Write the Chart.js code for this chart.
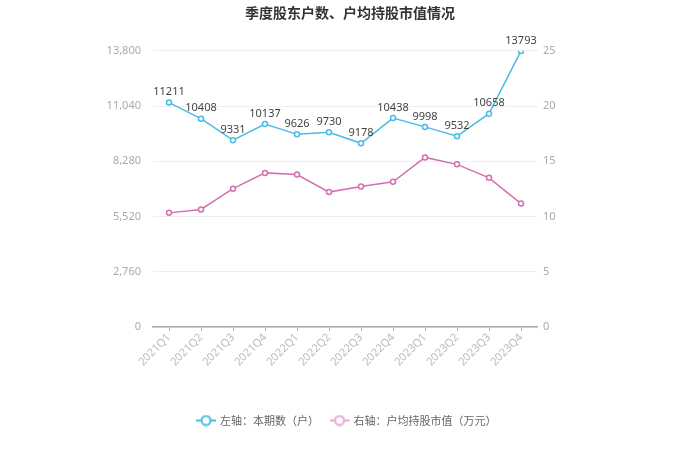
<!DOCTYPE html>
<html>
<head>
<meta charset="utf-8">
<script src="https://cdn.jsdelivr.net/npm/chart.js@4"></script>
<style>
  body { margin: 0; background: #fff; }
  #wrap { width: 700px; height: 473px; }
</style>
</head>
<body>
<div id="wrap"><canvas id="chart"></canvas></div>
<script>
// data
const quarters = ['2021Q1','2021Q2','2021Q3','2021Q4','2022Q1','2022Q2','2022Q3','2022Q4','2023Q1','2023Q2','2023Q3','2023Q4'];
const holders = [11211, 10408, 9331, 10137, 9626, 9730, 9178, 10438, 9998, 9532, 10658, 13793];
const avgValue = [10.33, 10.64, 12.52, 13.95, 13.80, 12.21, 12.72, 13.14, 15.35, 14.72, 13.50, 11.17];
const leftTicks = [0, 2760, 5520, 8280, 11040, 13800];

const blue = '#4cbbe8';
const pink = '#d46fb3';
const pinkLight = '#eaa6d6';

function legendIcon(color){
    const c = document.createElement('canvas');
    c.width = 26; c.height = 12;
    const g = c.getContext('2d');
    g.strokeStyle = color;
    g.lineWidth = 2;
    g.beginPath(); g.moveTo(0, 6); g.lineTo(20, 6); g.stroke();
    g.fillStyle = '#fff';
    g.beginPath(); g.arc(10, 6, 4.5, 0, Math.PI * 2); g.fill(); g.stroke();
    return c;
}

// draws the numbers above the blue line
const valueLabels = {
    id: 'valueLabels',
    afterDatasetsDraw(chart){
        const ctx = chart.ctx;
        const meta = chart.getDatasetMeta(0);
        ctx.save();
        ctx.font = '11px "Noto Sans", sans-serif';
        ctx.fillStyle = '#444';
        ctx.textAlign = 'center';
        ctx.textBaseline = 'bottom';
        meta.data.forEach((pt, i) => {
            ctx.fillText(String(holders[i]), pt.x, pt.y - 5);
        });
        ctx.restore();
    }
};

new Chart(document.getElementById('chart'), {
    type: 'line',
    data: {
        labels: quarters,
        datasets: [{
            label: '左轴：本期数（户）',
            data: holders,
            yAxisID: 'y',
            borderColor: blue,
            backgroundColor: '#fff',
            borderWidth: 1.5,
            pointStyle: 'circle',
            pointRadius: 2.5,
            pointBorderWidth: 1.5,
            tension: 0
        }, {
            label: '右轴：户均持股市值（万元）',
            data: avgValue,
            yAxisID: 'y1',
            borderColor: pink,
            backgroundColor: '#fff',
            borderWidth: 1.5,
            pointStyle: 'circle',
            pointRadius: 2.5,
            pointBorderWidth: 1.5,
            tension: 0
        }]
    },
    options: {
        responsive: true,
        maintainAspectRatio: false,
        animation: false,
        layout: { padding: { top: 0, bottom: 37, left: 0, right: 0 } },
        plugins: {
            title: {
                display: true,
                text: '季度股东户数、户均持股市值情况',
                color: '#333',
                font: { size: 14, weight: 'bold', family: '"Noto Sans CJK SC", sans-serif' },
                padding: { top: 4, bottom: 30 }
            },
            legend: {
                position: 'bottom',
                labels: {
                    usePointStyle: true,
                    color: '#666',
                    font: { size: 11, family: '"Noto Sans CJK SC", sans-serif' },
                    padding: 18,
                    generateLabels(chart){
                        return chart.data.datasets.map((ds, i) => ({
                            text: ds.label,
                            pointStyle: legendIcon(i === 0 ? blue : pinkLight),
                            fontColor: '#666',
                            lineWidth: 0,
                            strokeStyle: 'transparent',
                            fillStyle: 'transparent',
                            datasetIndex: i
                        }));
                    }
                }
            },
            tooltip: { enabled: false }
        },
        scales: {
            x: {
                offset: true,
                grid: { display: true, drawOnChartArea: false, offset: false, tickLength: 4, color: '#aaa' },
                border: { color: '#aaa', width: 1.5 },
                ticks: {
                    color: '#bbb',
                    minRotation: 45,
                    maxRotation: 45,
                    padding: 0,
                    font: { size: 11, family: '"Noto Sans", sans-serif' }
                },
                afterFit(scale){ scale.height = 70; }
            },
            y: {
                position: 'left',
                min: 0,
                max: 13800,
                afterBuildTicks(scale){ scale.ticks = leftTicks.map(v => ({ value: v })); },
                grid: { color: '#eee', drawTicks: false },
                border: { display: false },
                ticks: {
                    color: '#aaa',
                    padding: 12,
                    font: { size: 11, family: '"Noto Sans", sans-serif' },
                    callback: v => v.toLocaleString('en-US')
                },
                afterFit(scale){ scale.width = 153; }
            },
            y1: {
                position: 'right',
                min: 0,
                max: 25,
                ticks: {
                    stepSize: 5,
                    color: '#aaa',
                    padding: 6,
                    font: { size: 11, family: '"Noto Sans", sans-serif' }
                },
                grid: { drawOnChartArea: false, drawTicks: false },
                border: { display: false },
                afterFit(scale){ scale.width = 163; }
            }
        }
    },
    plugins: [valueLabels]
});
</script>
</body>
</html>
